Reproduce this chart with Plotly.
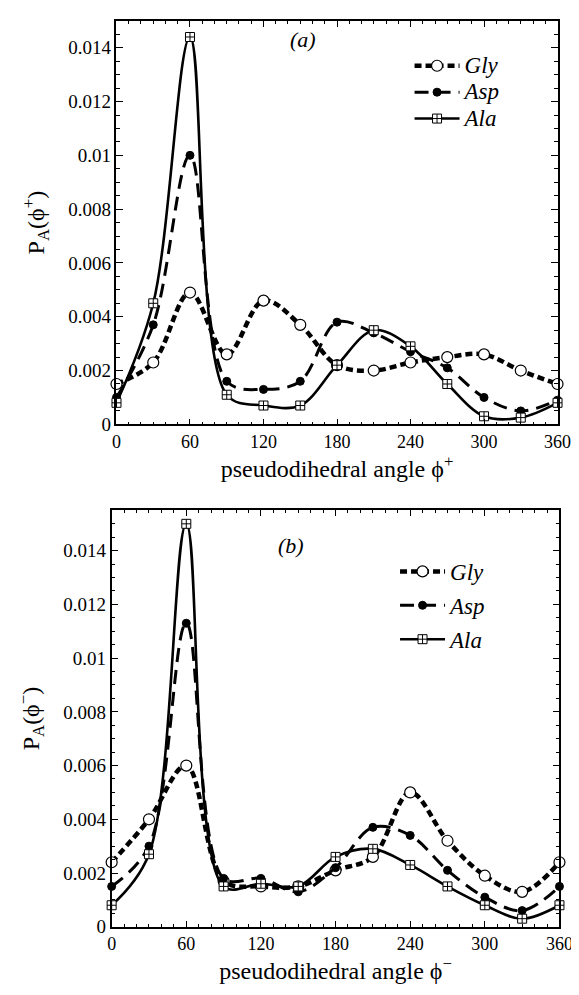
import plotly.graph_objects as go

angles = [0, 30, 60, 90, 120, 150, 180, 210, 240, 270, 300, 330, 360]

gly_a = [0.0015, 0.0023, 0.0049, 0.0026, 0.0046, 0.0037, 0.0022, 0.0020, 0.0023, 0.0025, 0.0026, 0.0020, 0.0015]
asp_a = [0.0010, 0.0037, 0.0100, 0.0016, 0.0013, 0.0016, 0.0038, 0.0034, 0.0027, 0.0021, 0.0010, 0.0005, 0.0009]
ala_a = [0.0008, 0.0045, 0.0144, 0.0011, 0.0007, 0.0007, 0.0022, 0.0035, 0.0029, 0.0015, 0.0003, 0.00025, 0.0008]

gly_b = [0.0024, 0.0040, 0.0060, 0.0017, 0.0015, 0.0015, 0.0021, 0.0026, 0.0050, 0.0032, 0.0019, 0.0013, 0.0024]
asp_b = [0.0015, 0.0030, 0.0113, 0.0018, 0.0018, 0.0013, 0.0022, 0.0037, 0.0034, 0.0021, 0.0011, 0.0006, 0.0015]
ala_b = [0.0008, 0.0027, 0.0150, 0.0015, 0.0016, 0.0015, 0.0026, 0.0029, 0.0023, 0.0015, 0.0008, 0.0003, 0.0008]

series_names = ["Gly", "Asp", "Ala"]
x_tick_vals = [0, 60, 120, 180, 240, 300, 360]
x_tick_text = ["0", "60", "120", "180", "240", "300", "360"]
y_tick_vals = [0, 0.002, 0.004, 0.006, 0.008, 0.01, 0.012, 0.014]
y_tick_text = ["0", "0.002", "0.004", "0.006", "0.008", "0.01", "0.012", "0.014"]

SERIF = "Liberation Serif"
W, H = 579, 995

styles = {
    "Gly": dict(line=dict(color="black", width=4.5, dash="7px,4px", shape="spline", smoothing=1.0),
                marker=dict(symbol="circle", size=11, color="white", line=dict(color="black", width=1.2))),
    "Asp": dict(line=dict(color="black", width=3, dash="14px,8px", shape="spline", smoothing=1.0),
                marker=dict(symbol="circle", size=8, color="black", line=dict(color="black", width=1))),
    "Ala": dict(line=dict(color="black", width=2.6, shape="spline", smoothing=1.0),
                marker=dict(symbol="square-cross", size=9, color="white", line=dict(color="black", width=1))),
}

fig = go.Figure()

panel_data = [
    ("x", "y", "legend", [gly_a, asp_a, ala_a]),
    ("x2", "y2", "legend2", [gly_b, asp_b, ala_b]),
]
for xa, ya, lg, vals in panel_data:
    for name, v in zip(series_names, vals):
        st = styles[name]
        fig.add_trace(go.Scatter(
            x=angles, y=v, mode="lines+markers",
            name='<span style="font-size:23px">' + name + "</span>",
            line=st["line"], marker=st["marker"], xaxis=xa, yaxis=ya,
            legend=lg, legendgroup=name + lg, cliponaxis=False,
        ))

def xaxis(domain, anchor, sup):
    return dict(
        domain=domain, anchor=anchor, range=[0, 360],
        tickmode="array", tickvals=x_tick_vals, ticktext=x_tick_text,
        ticks="inside", ticklen=6, tickwidth=1, tickcolor="black",
        minor=dict(dtick=10, ticks="inside", ticklen=3, tickwidth=1, tickcolor="black"),
        showline=True, linecolor="black", linewidth=1.5, mirror="ticks",
        showgrid=False, zeroline=False,
        tickfont=dict(family=SERIF, size=18, color="black"),
        title=dict(text="pseudodihedral angle ϕ<sup>" + sup + "</sup>",
                   font=dict(family=SERIF, size=24, color="black"), standoff=5),
    )

def yaxis(domain, anchor, top, sup):
    return dict(
        domain=domain, anchor=anchor, range=[0, top],
        tickmode="array", tickvals=y_tick_vals, ticktext=y_tick_text,
        ticks="inside", ticklen=7, tickwidth=1, tickcolor="black",
        minor=dict(dtick=0.0005, ticks="inside", ticklen=4, tickwidth=1, tickcolor="black"),
        showline=True, linecolor="black", linewidth=1.5, mirror="ticks",
        showgrid=False, zeroline=False,
        tickfont=dict(family=SERIF, size=19, color="black"),
        title=dict(text="P<sub>A</sub>(ϕ<sup>" + sup + "</sup>)",
                   font=dict(family=SERIF, size=24, color="black"), standoff=17),
    )

fig.update_layout(
    width=W, height=H,
    margin=dict(l=0, r=0, t=0, b=0),
    paper_bgcolor="white", plot_bgcolor="white",
    xaxis=xaxis([107 / W, 563 / W], "y", "+"),
    yaxis=yaxis([1 - 421 / H, 1 - 13 / H], "x", 0.0150, "+"),
    xaxis2=xaxis([102 / W, 565 / W], "y2", "−"),
    yaxis2=yaxis([1 - 929 / H, 1 - 508 / H], "x2", 0.0155, "−"),
    legend=dict(x=410 / W, y=1 - 40 / H, xanchor="left", yanchor="top",
                bgcolor="rgba(0,0,0,0)", borderwidth=0, tracegroupgap=0,
                traceorder="grouped", itemwidth=45,
                font=dict(family=SERIF, size=18, color="black", style="italic")),
    legend2=dict(x=395 / W, y=1 - 548 / H, xanchor="left", yanchor="top",
                 bgcolor="rgba(0,0,0,0)", borderwidth=0, tracegroupgap=1,
                 traceorder="grouped", itemwidth=45,
                 font=dict(family=SERIF, size=23, color="black", style="italic")),
    annotations=[
        dict(text="(a)", x=152, y=0.0143, xref="x", yref="y", showarrow=False,
             font=dict(family=SERIF, size=22, color="black", style="italic")),
        dict(text="(b)", x=144, y=0.0142, xref="x2", yref="y2", showarrow=False,
             font=dict(family=SERIF, size=22, color="black", style="italic")),
    ],
    showlegend=True,
)

fig.write_html("out.html")
